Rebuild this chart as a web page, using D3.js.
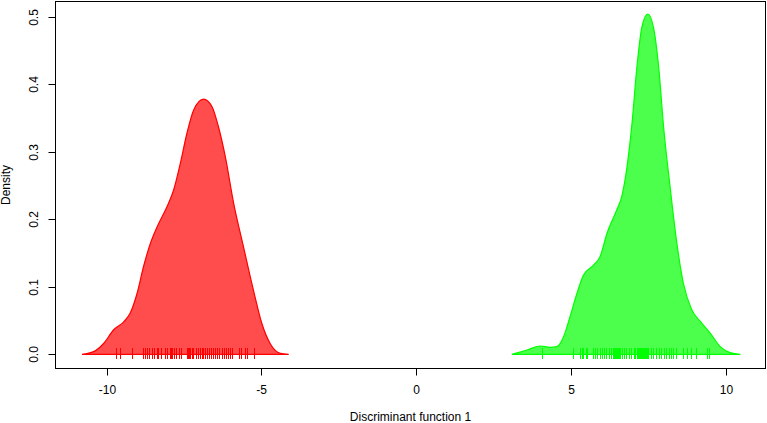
<!DOCTYPE html>
<html><head><meta charset="utf-8">
<script src="https://cdn.jsdelivr.net/npm/d3@7"></script>
<style>body{margin:0;background:#fff}svg{display:block}text{font-family:"Liberation Sans",Arial,sans-serif;font-size:12px;fill:#000}</style>
</head><body>
<svg id="c" width="767" height="423"></svg>
<script>
const xTicks = [-10, -5, 0, 5, 10];
const yTicks = [0.0, 0.1, 0.2, 0.3, 0.4, 0.5];
const yTickLabels = ["0.0", "0.1", "0.2", "0.3", "0.4", "0.5"];
const xLabel = "Discriminant function 1";
const yLabel = "Density";

// density curve of group 1 (x, density)
const group1X = [-10.80,-10.42,-10.10,-9.78,-9.45,-9.24,-9.02,-8.81,-8.59,-8.37,-8.05,-7.84,-7.62,-7.41,-7.19,-6.87,-6.60,-6.39,-6.17,-5.90,-5.58,-5.26,-4.99,-4.72,-4.39,-4.12];
const group1Y = [0,0.004,0.016,0.036,0.048,0.061,0.090,0.130,0.164,0.189,0.219,0.243,0.283,0.327,0.362,0.378,0.367,0.337,0.293,0.224,0.159,0.095,0.046,0.016,0.0015,0];
// density curve of group 2
const group2X = [3.09,3.58,4.01,4.33,4.54,4.76,4.97,5.19,5.40,5.73,5.94,6.16,6.48,6.64,6.81,6.97,7.13,7.29,7.48,7.66,7.83,7.99,8.20,8.42,8.63,8.90,9.17,9.50,9.82,10.14,10.47];
const group2Y = [0,0.0064,0.0123,0.0104,0.0113,0.026,0.056,0.090,0.117,0.132,0.145,0.179,0.214,0.234,0.278,0.342,0.426,0.485,0.504,0.485,0.426,0.337,0.248,0.164,0.105,0.066,0.049,0.031,0.0114,0.0024,0];
// rug values
const rug1 = [-9.69,-9.56,-9.17,-8.82,-8.75,-8.69,-8.62,-8.53,-8.46,-8.37,-8.33,-8.24,-8.11,-8.04,-7.95,-7.91,-7.88,-7.82,-7.75,-7.66,-7.59,-7.40,-7.36,-7.33,-7.30,-7.24,-7.20,-7.11,-7.04,-6.98,-6.91,-6.88,-6.82,-6.75,-6.69,-6.62,-6.56,-6.49,-6.43,-6.36,-6.27,-6.20,-6.14,-6.07,-6.01,-5.94,-5.72,-5.65,-5.52,-5.46,-5.23];
const rug2 = [4.06,5.05,5.30,5.35,5.40,5.47,5.53,5.71,5.77,5.84,5.92,5.99,6.07,6.14,6.22,6.29,6.36,6.40,6.43,6.46,6.49,6.52,6.56,6.59,6.64,6.72,6.78,6.86,6.93,7.02,7.08,7.14,7.17,7.20,7.24,7.27,7.30,7.33,7.36,7.40,7.43,7.46,7.50,7.58,7.66,7.75,7.83,7.90,7.99,8.07,8.15,8.23,8.31,8.38,8.61,8.74,8.89,9.04,9.39,9.47];

const svg = d3.select("#c");
const L = 55.5, R = 765.5, T = 1.5, B = 368.5;
const x = d3.scaleLinear().domain([-10, 10]).range([106.7, 725.8]);
const y = d3.scaleLinear().domain([0, 0.5]).range([354.3, 16.7]);

const groups = [
  {xs: group1X, ys: group1Y, rug: rug1, fill: "rgba(255,0,0,0.7)", stroke: "#ff0000"},
  {xs: group2X, ys: group2Y, rug: rug2, fill: "rgba(0,255,0,0.7)", stroke: "#00ff00"}
];
const area = d3.area().x(d => x(d[0])).y0(y(0)).y1(d => y(d[1])).curve(d3.curveMonotoneX);
const line = d3.line().x(d => x(d[0])).y(d => y(d[1])).curve(d3.curveMonotoneX);
groups.forEach(g => {
  const pts = g.xs.map((v, i) => [v, g.ys[i]]);
  svg.append("path").attr("d", area(pts)).attr("fill", g.fill).attr("stroke", "none");
  svg.append("path").attr("d", line(pts) + "Z").attr("fill", "none").attr("stroke", g.stroke).attr("stroke-width", 1.2);
  svg.append("g").selectAll("line").data(g.rug).join("line")
    .attr("x1", d => Math.round(x(d)) + 0.5).attr("x2", d => Math.round(x(d)) + 0.5)
    .attr("y1", 348).attr("y2", 359)
    .attr("stroke", g.stroke).attr("stroke-width", 1);
});

// box
svg.append("rect").attr("x", L).attr("y", T).attr("width", R - L).attr("height", B - T)
  .attr("fill", "none").attr("stroke", "#000").attr("stroke-width", 1);

// x axis ticks
const gx = svg.append("g");
xTicks.forEach(t => {
  const px = Math.round(x(t)) + 0.5;
  gx.append("line").attr("x1", px).attr("x2", px).attr("y1", B).attr("y2", B + 7).attr("stroke", "#000");
  gx.append("text").attr("x", px).attr("y", 394).attr("text-anchor", "middle").text(t);
});
// y axis ticks
const gy = svg.append("g");
yTicks.forEach((t, i) => {
  const py = Math.round(y(t)) + 0.5;
  gy.append("line").attr("x1", L - 7).attr("x2", L).attr("y1", py).attr("y2", py).attr("stroke", "#000");
  gy.append("text").attr("transform", `translate(38,${py}) rotate(-90)`).attr("text-anchor", "middle").text(yTickLabels[i]);
});
svg.append("text").attr("x", (L + R) / 2).attr("y", 421).attr("text-anchor", "middle").text(xLabel);
svg.append("text").attr("transform", `translate(9.5,${(T + B) / 2}) rotate(-90)`).attr("text-anchor", "middle").text(yLabel);
</script>
</body></html>
